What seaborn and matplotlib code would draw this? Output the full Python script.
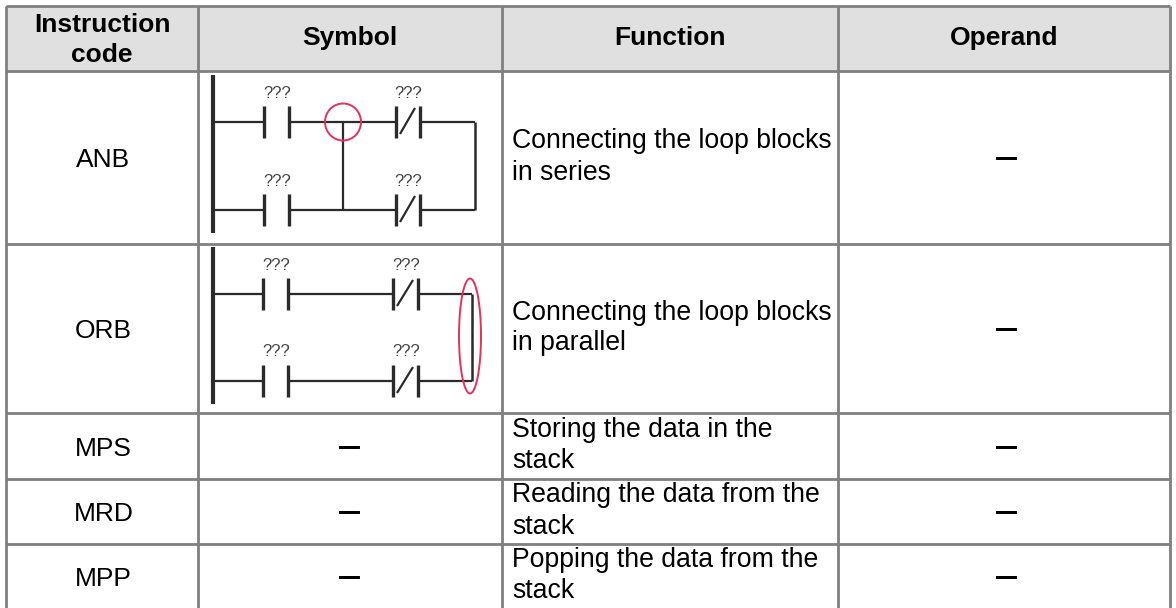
import matplotlib
matplotlib.use("Agg")
import matplotlib.pyplot as plt
import matplotlib.patheffects as pe
from matplotlib.patches import Ellipse, Rectangle
import seaborn as sns

headers = [["Instruction", "code"], ["Symbol"], ["Function"], ["Operand"]]
codes = ["ANB", "ORB", "MPS", "MRD", "MPP"]
functions = [["Connecting the loop blocks", "in series"],
             ["Connecting the loop blocks", "in parallel"],
             ["Storing the data in the", "stack"],
             ["Reading the data from the", "stack"],
             ["Popping the data from the", "stack"]]
symbols = ["", "", "\u2014", "\u2014", "\u2014"]
operands = ["\u2014"] * 5

col_edges = [6, 198, 502, 838, 1170]
row_edges = [6, 71, 244, 413, 479, 544, 612]

sns.set_theme(style="white")
plt.rcParams["font.family"] = ["Liberation Sans", "DejaVu Sans"]

fig = plt.figure(figsize=(11.76, 6.08), dpi=100)
ax = fig.add_axes([0, 0, 1, 1])
ax.set_xlim(0, 1176)
ax.set_ylim(608, 0)
ax.axis("off")

GRID = "#808080"
INK = "#2b2b2b"
RED = "#e8305c"
thick = [pe.withStroke(linewidth=0.7, foreground="black")]


def seg(xs, ys, lw=1.6, color=INK, z=3):
    sns.lineplot(x=xs, y=ys, ax=ax, color=color, linewidth=lw, sort=False,
                 estimator=None, errorbar=None, legend=False, zorder=z,
                 solid_capstyle="butt")


# header band
ax.add_patch(Rectangle((col_edges[0], row_edges[0]),
                       col_edges[-1] - col_edges[0],
                       row_edges[1] - row_edges[0],
                       facecolor="#e0e0e0", edgecolor="none", zorder=0))

# grid
for x in col_edges:
    seg([x, x], [row_edges[0], row_edges[-1]], lw=2.0, color=GRID, z=2)
for y in row_edges:
    seg([col_edges[0], col_edges[-1]], [y, y], lw=2.0, color=GRID, z=2)

# header text
for i, lines in enumerate(headers):
    cx = (col_edges[i] + col_edges[i + 1]) / 2
    baselines = [32, 62] if len(lines) == 2 else [45]
    for line, by in zip(lines, baselines):
        ax.text(cx, by, line, ha="center", va="baseline", fontsize=19,
                fontweight="bold", color="black")

# body text
for r, code in enumerate(codes):
    cy = (row_edges[r + 1] + min(row_edges[r + 2], 608)) / 2
    ax.text(103.5, cy + 9.5, code, ha="center", va="baseline", fontsize=19,
            color="black")
    for line, off in zip(functions[r], (-9, 22)):
        ax.text(512, cy + off, line, ha="left", va="baseline", fontsize=19.2,
                color="black")
    ax.text(1006, cy + 0.5, operands[r], ha="center", va="center", fontsize=14.5,
            color="black", fontweight="bold", path_effects=thick)
    if symbols[r]:
        ax.text(349, cy + 0.5, symbols[r], ha="center", va="center", fontsize=14.5,
                color="black", fontweight="bold", path_effects=thick)


def contact(xl, xr, y, closed=False):
    seg([xl, xl], [y - 16, y + 16], lw=2.4)
    seg([xr, xr], [y - 16, y + 16], lw=2.4)
    if closed:
        seg([xl + 4, xr - 5], [y + 12, y - 14], lw=1.6)


def ladder(rail, y1, y2, c1, c2, right, label_dy, lab_x):
    seg([213, 213], [rail[0], rail[1]], lw=3.0)
    for y in (y1, y2):
        contact(c1[0], c1[1], y)
        contact(c2[0], c2[1], y, closed=True)
        seg([213, c1[0]], [y, y])
        seg([c1[1], c2[0]], [y, y])
        seg([c2[1], right], [y, y])
        for lx in lab_x:
            ax.text(lx, y - label_dy, "???", ha="center", va="center",
                    fontsize=12, color="#444444")
    seg([right, right], [y1, y2], lw=1.8)


# ANB diagram
ladder((75, 233), 122, 210, (264, 289), (396, 420), 475, 29, (277, 408))
seg([343, 343], [122, 210])
ax.add_patch(Ellipse((343, 122), 36, 37, facecolor="none", edgecolor=RED,
                     linewidth=1.4, zorder=4))

# ORB diagram
ladder((247, 404), 294, 381, (263, 288), (393, 418), 472, 29, (276, 406))
ax.add_patch(Ellipse((470, 336), 22, 115, facecolor="none", edgecolor=RED,
                     linewidth=1.4, zorder=4))

fig.savefig("out.png", dpi=100)
